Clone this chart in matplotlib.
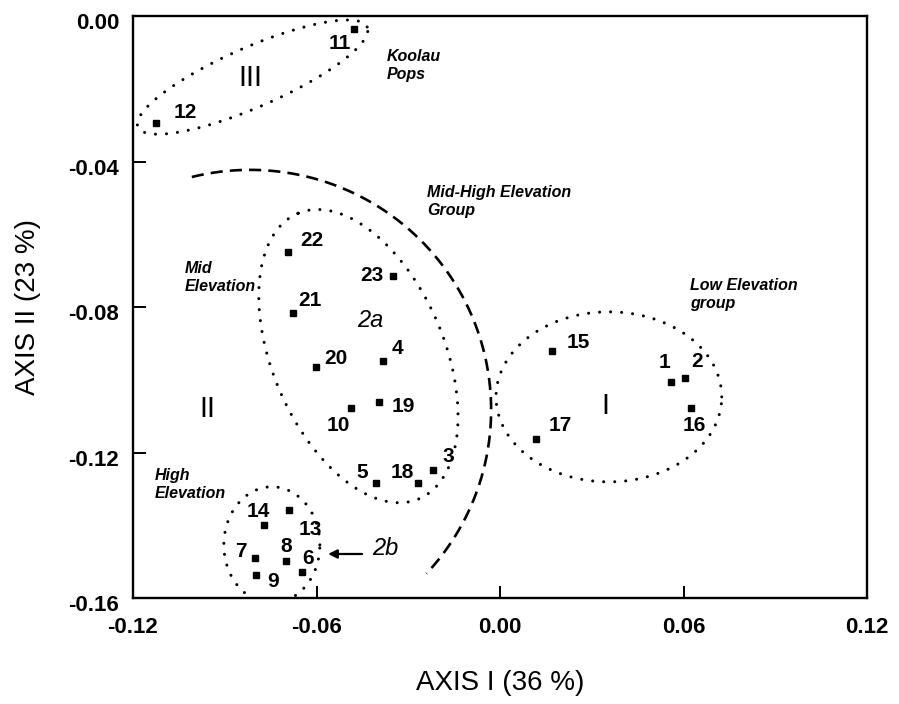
import numpy as np
import matplotlib
matplotlib.use('Agg')
import matplotlib.pyplot as plt
import matplotlib.transforms as mtransforms

# ---- data ----
pop_ids = ['1', '2', '3', '4', '5', '6', '7', '8', '9', '10', '11', '12',
           '13', '14', '15', '16', '17', '18', '19', '20', '21', '22', '23']
axis1 = [0.0559, 0.0605, -0.0219, -0.0383, -0.0405, -0.0647, -0.0801, -0.0700,
         -0.0798, -0.0487, -0.0477, -0.1125, -0.0690, -0.0772, 0.0170, 0.0625,
         0.0118, -0.0268, -0.0396, -0.0602, -0.0677, -0.0693, -0.0350]
axis2 = [-0.1006, -0.0995, -0.1248, -0.0949, -0.1284, -0.1529, -0.1490, -0.1498,
         -0.1537, -0.1078, -0.0036, -0.0294, -0.1358, -0.1399, -0.0921, -0.1078,
         -0.1163, -0.1284, -0.1061, -0.0965, -0.0817, -0.0649, -0.0715]
x_ticks = [-0.12, -0.06, 0.00, 0.06, 0.12]
x_tick_labels = ['-0.12', '-0.06', '0.00', '0.06', '0.12']
y_ticks = [0.00, -0.04, -0.08, -0.12, -0.16]
y_tick_labels = ['0.00', '-0.04', '-0.08', '-0.12', '-0.16']

# label offsets (pixels, x right / y up)
label_offsets = {
    '1': (-6, 19), '2': (12, 16), '3': (15, 13), '4': (15, 13), '5': (-14, 11),
    '6': (6, 14), '7': (-14, 6), '8': (0, 14), '9': (17, -6), '10': (-13, -17),
    '11': (-14, -14), '12': (29, 10), '13': (21, -20), '14': (-6, 13),
    '15': (26, 9), '16': (3, -17), '17': (24, 14), '18': (-16, 11),
    '19': (24, -5), '20': (20, 9), '21': (17, 13), '22': (24, 12), '23': (-21, 1),
}

plt.rcParams['font.family'] = ['Liberation Sans', 'DejaVu Sans']

W, H = 899, 704
fig = plt.figure(figsize=(W / 100, H / 100), dpi=100)
ax_l, ax_r, ax_t, ax_b = 133, 867, 16, 598
ax = fig.add_axes([ax_l / W, 1 - ax_b / H, (ax_r - ax_l) / W, (ax_b - ax_t) / H])
ax.set_xlim(-0.12, 0.12)
ax.set_ylim(-0.16, 0.0)

sx = (ax_r - ax_l) / 0.24
sy = (ax_b - ax_t) / 0.16
k = sx / sy  # converts screen-equal x-units to y data units


def ell(cx, cy, a, b, ang, t0=0.0, t1=360.0, n=600):
    t = np.radians(np.linspace(t0, t1, n))
    u = a * np.cos(t)
    v = b * np.sin(t)
    A = np.radians(ang)
    ur = u * np.cos(A) - v * np.sin(A)
    vr = u * np.sin(A) + v * np.cos(A)
    return cx + ur, cy + vr * k


dot_style = dict(color='black', lw=2.2, linestyle=(0, (0.01, 3.6)),
                 dash_capstyle='round')

# group ellipses (dotted)
for (cx, cy, a, b, ang) in [(-0.0809, -0.0168, 0.0409, 0.0098, 23.6),
                            (-0.0463, -0.0935, 0.0507, 0.0281, 113.0),
                            (-0.0746, -0.1454, 0.0157, 0.0190, 0.0),
                            (0.0356, -0.1047, 0.0369, 0.0278, 0.0)]:
    ex, ey = ell(cx, cy, a, b, ang)
    ax.plot(ex, ey, **dot_style)

# Mid-High elevation dashed arc
dx_, dy_ = ell(-0.0817, -0.1083, 0.0788, 0.0785, 0.0, 104, -43)
ax.plot(dx_, dy_, color='black', lw=1.9, linestyle=(0, (4.6, 2.7)))

# points
ax.plot(axis1, axis2, 's', color='black', ms=3.8, mec='black')
for pid, xv, yv in zip(pop_ids, axis1, axis2):
    ox, oy = label_offsets[pid]
    ax.annotate(pid, (xv, yv), xytext=(ox, oy), textcoords='offset pixels',
                ha='center', va='center', fontsize=15, fontweight='bold')

# roman numerals
ax.text(-0.0817, -0.0170, 'III', fontsize=21, ha='center', va='center')
ax.text(-0.0958, -0.1080, 'II', fontsize=21, ha='center', va='center')
ax.text(0.0343, -0.1072, 'I', fontsize=21, ha='center', va='center')

# subgroup labels
ax.text(-0.0425, -0.0836, '2a', fontsize=17, style='italic', ha='center', va='center')
ax.text(-0.0376, -0.1463, '2b', fontsize=17, style='italic', ha='center', va='center')
ax.annotate('', xy=(-0.0562, -0.1479), xytext=(-0.0451, -0.1479),
            arrowprops=dict(arrowstyle='-|>', lw=1.6, color='black',
                            mutation_scale=13, shrinkA=0, shrinkB=0))

# group annotations
note = dict(fontsize=11.5, fontweight='bold', style='italic', ha='left',
            va='center', linespacing=1.25)
ax.text(-0.0369, -0.0136, 'Koolau\nPops', **note)
ax.text(-0.0239, -0.0511, 'Mid-High Elevation\nGroup', **note)
ax.text(-0.1030, -0.0720, 'Mid\nElevation', **note)
ax.text(-0.1128, -0.1287, 'High\nElevation', **note)
ax.text(0.0621, -0.0767, 'Low Elevation\ngroup', **note)

# axes styling
ax.set_xticks(x_ticks)
ax.set_xticklabels(x_tick_labels, fontweight='bold')
ax.set_yticks(y_ticks)
ax.set_yticklabels(y_tick_labels, fontweight='bold')
ax.tick_params(axis='both', direction='in', length=9, width=1.4,
               labelsize=16, top=False, right=False)
ax.tick_params(axis='x', pad=14)
ax.tick_params(axis='y', pad=10)
shift = mtransforms.ScaledTranslation(0, -0.05, fig.dpi_scale_trans)
for lab in ax.get_yticklabels():
    lab.set_transform(lab.get_transform() + shift)
for s in ax.spines.values():
    s.set_linewidth(1.7)

ax.set_xlabel('AXIS I (36 %)', fontsize=20)
ax.xaxis.label.set_va('center')
ax.xaxis.set_label_coords(0.5, (ax_b - 683) / (ax_b - ax_t))
ax.set_ylabel('AXIS II (23 %)', fontsize=20)
ax.yaxis.label.set_va('center')
ax.yaxis.set_label_coords((28 - ax_l) / (ax_r - ax_l), 0.5)

fig.savefig('out.png', dpi=100)
